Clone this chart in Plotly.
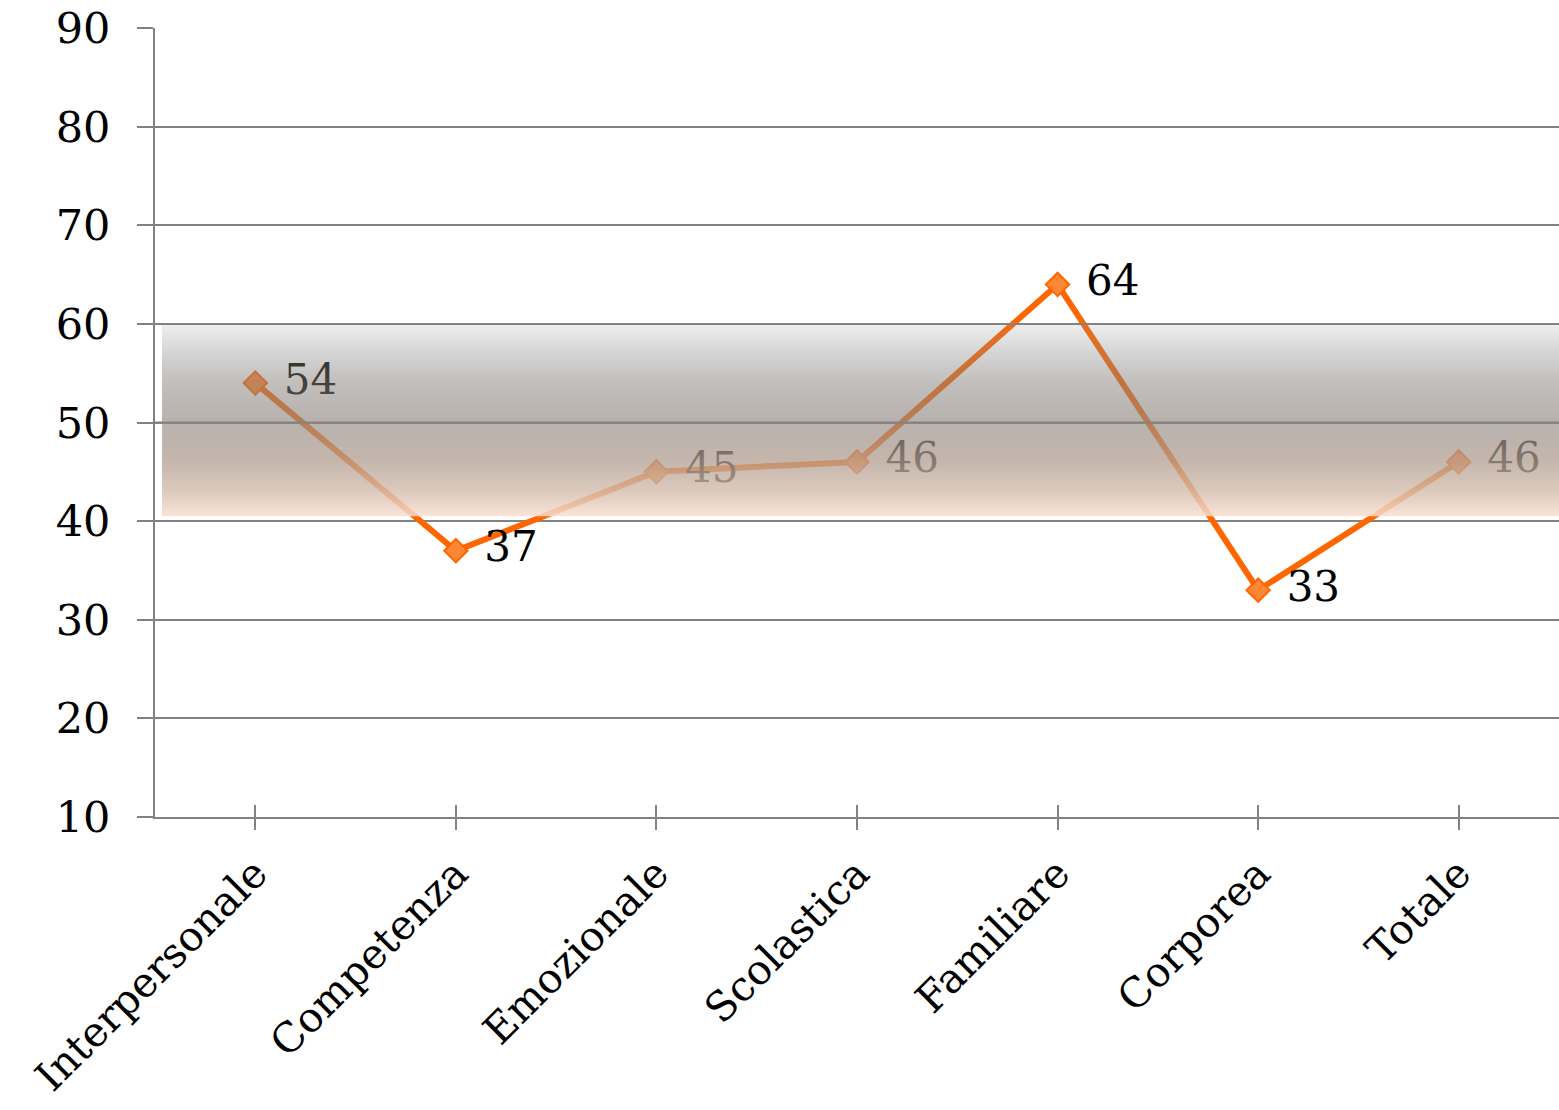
import plotly.graph_objects as go

categories = ["Interpersonale", "Competenza", "Emozionale", "Scolastica",
              "Familiare", "Corporea", "Totale"]
values = [54, 37, 45, 46, 64, 33, 46]
y_ticks = [10, 20, 30, 40, 50, 60, 70, 80, 90]

# normal-range band (style constants)
BAND_LOW, BAND_HIGH = 40.5, 60
BAND_X0, BAND_X1 = -0.465, 6.5

GRID = "#828282"
ORANGE = "#FF6600"
FONT = "DejaVu Serif"

xs = list(range(len(categories)))

fig = go.Figure()

fig.add_trace(go.Scatter(
    x=xs, y=values,
    mode="lines+markers",
    line=dict(color=ORANGE, width=6),
    marker=dict(symbol="diamond", size=18, color="#FF8633",
                line=dict(color=ORANGE, width=2)),
    hoverinfo="skip",
    showlegend=False,
))

# data labels (invisible large markers give the gap next to each point)
fig.add_trace(go.Scatter(
    x=xs, y=values,
    mode="markers+text",
    marker=dict(size=44, color="rgba(0,0,0,0)"),
    text=[str(v) for v in values],
    textposition="middle right",
    textfont=dict(family=FONT, size=42, color="#000000"),
    cliponaxis=False,
    hoverinfo="skip",
    showlegend=False,
))

fig.add_trace(go.Scatter(
    x=[BAND_X0, BAND_X1, BAND_X1, BAND_X0, BAND_X0],
    y=[BAND_LOW, BAND_LOW, BAND_HIGH, BAND_HIGH, BAND_LOW],
    xaxis="x2",
    mode="lines",
    line=dict(width=0, color="rgba(0,0,0,0)"),
    fill="toself",
    fillgradient=dict(
        type="vertical",
        start=BAND_LOW, stop=BAND_HIGH,
        colorscale=[
            [0.0, "rgba(250,222,208,0.85)"],
            [0.13, "rgba(212,190,174,0.82)"],
            [0.3, "rgba(176,157,144,0.75)"],
            [0.5, "rgba(146,137,131,0.65)"],
            [0.7, "rgba(133,127,121,0.5)"],
            [0.85, "rgba(134,134,134,0.35)"],
            [1.0, "rgba(140,140,140,0.15)"],
        ],
    ),
    hoverinfo="skip",
    showlegend=False,
))

# gridlines inside the band must sit above the overlay
for t in y_ticks:
    if BAND_LOW <= t <= BAND_HIGH:
        fig.add_shape(type="line", xref="paper", yref="y", x0=0, x1=1,
                      y0=t, y1=t, layer="above",
                      line=dict(color=GRID, width=2))

fig.update_layout(
    width=1559, height=1110,
    margin=dict(l=155, r=0, t=28, b=293, autoexpand=False),
    paper_bgcolor="white", plot_bgcolor="white",
    font=dict(family=FONT, size=42, color="#000000"),
    xaxis=dict(
        range=[-0.5, 6.5], automargin=False,
        tickmode="array", tickvals=xs, ticktext=categories,
        tickangle=-45,
        ticks="outside", ticklen=11, tickwidth=2, tickcolor=GRID,
        ticklabelstandoff=3,
        showline=True, linecolor=GRID, linewidth=2,
        showgrid=False, zeroline=False,
        tickfont=dict(family=FONT, size=41, color="#000000"),
    ),
    xaxis2=dict(
        range=[-0.5, 6.5], overlaying="x", anchor="y", side="bottom",
        automargin=False,
        tickmode="array", tickvals=xs,
        ticks="inside", ticklen=12, tickwidth=2, tickcolor=GRID,
        showticklabels=False, showline=False, showgrid=False, zeroline=False,
    ),
    yaxis=dict(
        range=[10, 90], automargin=False,
        tickmode="array", tickvals=y_ticks,
        ticks="outside", ticklen=16, tickwidth=2, tickcolor=GRID,
        ticklabelstandoff=18,
        showline=True, linecolor=GRID, linewidth=2,
        showgrid=True, gridcolor=GRID, gridwidth=2,
        zeroline=False,
        tickfont=dict(family=FONT, size=43, color="#000000"),
    ),
)

fig.write_html("out.html")
